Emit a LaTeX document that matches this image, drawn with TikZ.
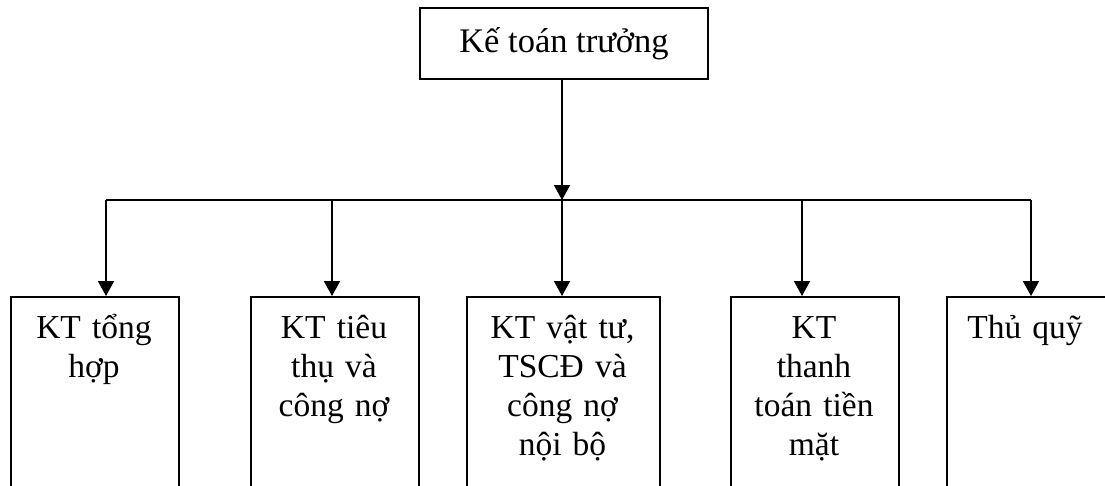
\documentclass[tikz,border=0pt]{standalone}
\usepackage{fontspec}
\setmainfont{Liberation Serif}
\usetikzlibrary{arrows.meta,calc}
\begin{document}
\begin{tikzpicture}[x=1pt,y=-1pt,
  line width=2pt,
  topbox/.style={draw, minimum width=288pt, minimum height=71pt, inner sep=0pt, font=\fontsize{34.5}{39}\selectfont},
  subbox/.style={draw, anchor=north west, minimum height=230pt, inner sep=0pt},
  lbl/.style={anchor=base, align=center, text width=#1, inner sep=0pt, font=\fontsize{33.5}{39}\selectfont},
  arr/.style={-{Triangle[length=15pt,width=16pt]}},
  ]
\useasboundingbox (0,0) rectangle (1105,485);
\clip (0,0) rectangle (1105,485);
\node[topbox] (top) at (564,43.5) {Kế toán trưởng};
\node[subbox, minimum width=168pt] (b1) at (10,296) {};
\node[subbox, minimum width=168pt] (b2) at (250,296) {};
\node[subbox, minimum width=193pt] (b3) at (466,296) {};
\node[subbox, minimum width=168pt] (b4) at (730,296) {};
\node[subbox, minimum width=175pt] (b5) at (946,296) {};
\node[lbl=160pt] (t1) at (94,338) {KT tổng\\hợp};
\node[lbl=160pt] (t2) at (334,338) {KT tiêu\\thụ và\\công nợ};
\node[lbl=185pt] (t3) at (562.5,338) {KT vật tư,\\TSCĐ và\\công nợ\\nội bộ};
\node[lbl=160pt] (t4) at (814,338) {KT\\thanh\\toán tiền\\mặt};
\node[lbl=150pt] (t5) at (1025,338) {Thủ quỹ};
\coordinate (j1) at (106,200);
\coordinate (j2) at (332,200);
\coordinate (j3) at (562,200);
\coordinate (j4) at (802,200);
\coordinate (j5) at (1031,200);
\draw[arr] (top.south -| j3) -- (j3);
\draw (j1) -- (j5);
\draw[arr] (j1) -- (j1 |- b1.north);
\draw[arr] (j2) -- (j2 |- b2.north);
\draw[arr] (j3) -- (j3 |- b3.north);
\draw[arr] (j4) -- (j4 |- b4.north);
\draw[arr] (j5) -- (j5 |- b5.north);
\end{tikzpicture}
\end{document}
